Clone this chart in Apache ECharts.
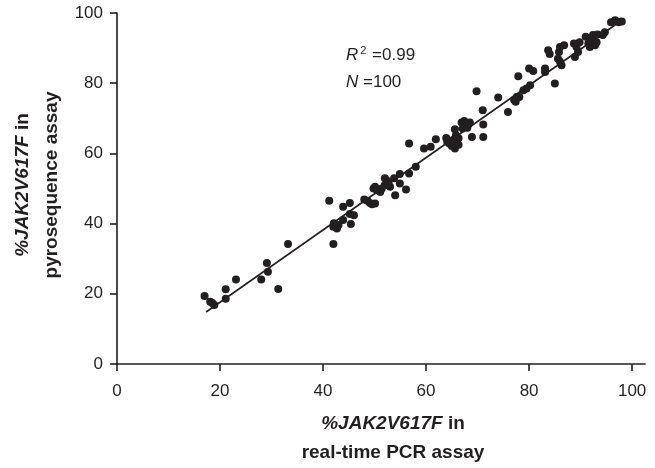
<!DOCTYPE html>
<html>
<head>
<meta charset="utf-8">
<script src="https://cdn.jsdelivr.net/npm/echarts@6/dist/echarts.min.js"></script>
<style>
  html, body { margin: 0; padding: 0; background: #fff; }
  #main { width: 655px; height: 468px; }
</style>
</head>
<body>
<div id="main"></div>
<script>
// %JAK2V617F: real-time PCR (x) vs pyrosequencing (y)
var pcrValues = [
  17.0, 18.1, 18.9, 18.5, 21.1, 21.1, 23.1, 28.0, 29.1, 29.3,
  31.3, 33.2, 41.2, 42.0, 42.0, 42.7, 43.0, 42.1, 43.9, 45.2,
  43.9, 45.2, 46.0, 45.4, 48.0, 48.6, 49.1, 49.5, 50.1, 49.8,
  50.1, 50.5, 51.1, 51.4, 52.0, 52.4, 52.7, 53.0, 52.0, 54.0,
  53.8, 54.9, 54.9, 56.1, 56.7, 58.0, 56.7, 59.6, 60.9, 61.9,
  63.9, 64.1, 64.5, 65.0, 65.3, 65.6, 65.2, 65.9, 66.3, 65.8,
  65.6, 66.3, 66.9, 67.4, 68.5, 68.2, 67.6, 67.1, 68.0, 68.9,
  71.1, 71.1, 71.0, 69.8, 74.0, 75.9, 77.1, 77.6, 78.1, 77.4,
  79.5, 78.9, 80.2, 77.9, 80.0, 80.8, 83.1, 83.1, 85.0, 86.0,
  86.3, 85.6, 83.7, 84.0, 85.8, 86.8, 86.0, 88.7, 88.9, 89.5,
  89.2, 89.8, 91.0, 91.5, 92.1, 92.4, 92.8, 91.8, 93.1, 95.9,
  96.7, 98.0, 97.4, 94.7, 94.3, 93.3
];
var pyroValues = [
  19.4, 17.7, 16.8, 17.4, 21.3, 18.6, 24.1, 24.1, 28.8, 26.3,
  21.4, 34.2, 46.5, 34.2, 39.1, 38.6, 39.6, 40.1, 44.8, 45.9,
  41.0, 42.7, 42.4, 39.9, 46.9, 46.5, 45.9, 45.5, 45.7, 50.0,
  50.5, 49.5, 49.0, 50.0, 52.9, 52.2, 51.4, 50.5, 51.0, 48.1,
  52.9, 54.1, 51.4, 49.7, 54.3, 56.2, 62.8, 61.4, 61.9, 64.0,
  64.4, 63.3, 62.8, 62.1, 62.5, 61.4, 63.8, 63.8, 64.3, 65.2,
  66.9, 62.5, 68.8, 69.2, 68.8, 68.2, 67.6, 67.1, 67.3, 64.7,
  68.2, 64.7, 72.3, 77.7, 75.9, 71.8, 75.2, 76.1, 76.1, 74.7,
  78.5, 78.0, 79.4, 82.0, 84.2, 83.5, 83.2, 84.2, 79.9, 86.1,
  85.1, 87.0, 89.4, 88.3, 88.9, 90.8, 90.3, 91.3, 87.5, 88.9,
  90.3, 91.7, 93.2, 91.3, 92.2, 93.7, 90.8, 90.3, 91.7, 97.4,
  97.9, 97.6, 97.4, 94.5, 93.7, 93.9
];

// regression line as drawn in the figure
var fitSlope = 1.03;
var fitIntercept = -3.0;
var fitRange = [17.3, 98.0];

var tickValues = [0, 20, 40, 60, 80, 100];
var rSquared = '0.99';
var nSamples = '100';

var ink = '#231f20';
var font = 'Liberation Sans, Arial, Helvetica, sans-serif';

var points = pcrValues.map(function (x, i) { return [x, pyroValues[i]]; });
var fitLine = fitRange.map(function (x) { return [x, fitSlope * x + fitIntercept]; });

var boldText = { fontSize: 19, fontWeight: 'bold', fontFamily: font, fill: ink, lineHeight: 29 };
var boldItalic = Object.assign({}, boldText, { fontStyle: 'italic' });

var chart = echarts.init(document.getElementById('main'));

var option = {
  animation: false,
  grid: { left: 117, right: 10, top: 13, bottom: 104, containLabel: false },
  xAxis: {
    type: 'value',
    min: 0,
    max: 102.5,
    interval: 20,
    splitLine: { show: false },
    axisLine: { onZero: false, lineStyle: { color: ink, width: 1.6 } },
    axisTick: { customValues: tickValues, length: 7, lineStyle: { color: ink, width: 1.6 } },
    axisLabel: { customValues: tickValues, color: ink, fontSize: 17, fontFamily: font, margin: 19 }
  },
  yAxis: {
    type: 'value',
    min: 0,
    max: 100,
    interval: 20,
    splitLine: { show: false },
    axisLine: { show: true, onZero: false, lineStyle: { color: ink, width: 1.6 } },
    axisTick: { show: true, length: 7, lineStyle: { color: ink, width: 1.6 } },
    axisLabel: { color: ink, fontSize: 17, fontFamily: font, margin: 14 }
  },
  series: [
    {
      type: 'line',
      data: fitLine,
      showSymbol: false,
      lineStyle: { color: ink, width: 1.6 },
      z: 1
    },
    {
      type: 'scatter',
      data: points,
      symbolSize: 8,
      itemStyle: { color: ink, opacity: 1 },
      z: 2
    }
  ],
  graphic: [
    {
      type: 'text',
      left: 346,
      top: 45,
      style: {
        text: '{i|R}{s|2}{n| =' + rSquared + '}',
        fill: ink,
        rich: {
          i: { fontSize: 17, fontStyle: 'italic', fontFamily: font, fill: ink, lineHeight: 20 },
          s: { fontSize: 11, fontFamily: font, fill: ink, verticalAlign: 'top', lineHeight: 11, padding: [0, 1, 0, 2] },
          n: { fontSize: 17, fontFamily: font, fill: ink, lineHeight: 20 }
        }
      }
    },
    {
      type: 'text',
      left: 346,
      top: 74,
      style: {
        text: '{i|N}{n| =' + nSamples + '}',
        fill: ink,
        rich: {
          i: { fontSize: 17, fontStyle: 'italic', fontFamily: font, fill: ink, lineHeight: 20 },
          n: { fontSize: 17, fontFamily: font, fill: ink, lineHeight: 20 }
        }
      }
    },
    {
      type: 'text',
      x: 393,
      y: 438,
      style: {
        text: '{bi|%JAK2V617F}{b| in}\n{b|real-time PCR assay}',
        align: 'center',
        verticalAlign: 'middle',
        fill: ink,
        rich: { bi: boldItalic, b: boldText }
      }
    },
    {
      type: 'text',
      x: 37,
      y: 185,
      rotation: Math.PI / 2,
      style: {
        text: '{bi|%JAK2V617F}{b| in}\n{b|pyrosequence assay}',
        align: 'center',
        verticalAlign: 'middle',
        fill: ink,
        rich: { bi: boldItalic, b: boldText }
      }
    }
  ]
};

chart.setOption(option);
</script>
</body>
</html>
